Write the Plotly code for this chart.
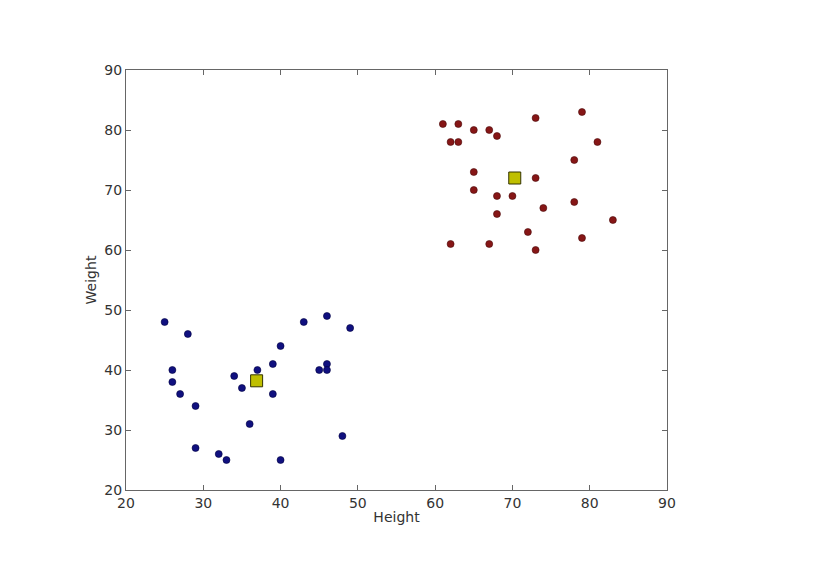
import plotly.graph_objects as go

# Cluster 1 (blue)
blue_height = [25, 28, 43, 46, 49, 40, 26, 26, 37, 39, 34, 35, 45, 46, 46, 27, 39, 29, 36, 48, 29, 32, 33, 40]
blue_weight = [48, 46, 48, 49, 47, 44, 40, 38, 40, 41, 39, 37, 40, 41, 40, 36, 36, 34, 31, 29, 27, 26, 25, 25]

# Cluster 2 (red)
red_height = [61, 63, 65, 67, 68, 73, 79, 62, 63, 81, 78, 65, 73, 65, 68, 70, 78, 74, 68, 83, 72, 79, 62, 67, 73]
red_weight = [81, 81, 80, 80, 79, 82, 83, 78, 78, 78, 75, 73, 72, 70, 69, 69, 68, 67, 66, 65, 63, 62, 61, 61, 60]

# Centroids
centroid_height = [36.9, 70.3]
centroid_weight = [38.2, 72.0]

x_ticks = [20, 30, 40, 50, 60, 70, 80, 90]
y_ticks = [20, 30, 40, 50, 60, 70, 80, 90]

fig = go.Figure()
fig.add_trace(go.Scatter(
    x=blue_height, y=blue_weight, mode="markers",
    marker=dict(color="#10107f", size=7, line=dict(color="#000040", width=0.6)),
    showlegend=False))
fig.add_trace(go.Scatter(
    x=red_height, y=red_weight, mode="markers",
    marker=dict(color="#861616", size=7, line=dict(color="#4a0a0a", width=0.6)),
    showlegend=False))
fig.add_trace(go.Scatter(
    x=centroid_height, y=centroid_weight, mode="markers",
    marker=dict(color="#bfbf00", size=12, symbol="square", line=dict(color="#333300", width=1)),
    showlegend=False))

font = dict(family="DejaVu Sans", size=14, color="#333333")
axis_common = dict(
    showgrid=False, zeroline=False, showline=True, linecolor="#666666", linewidth=1.2,
    mirror="allticks", ticks="inside", ticklen=5, tickcolor="#666666",
    tickfont=font,
)

fig.update_layout(
    width=823, height=558,
    margin=dict(l=118, r=164, t=62, b=76),
    paper_bgcolor="white", plot_bgcolor="white",
    xaxis=dict(range=[20, 90], tickvals=x_ticks, ticktext=[str(v) for v in x_ticks],
               title=dict(text="Height", font=font, standoff=2),
               **axis_common),
    yaxis=dict(range=[20, 90], tickvals=y_ticks, ticktext=[str(v) for v in y_ticks],
               title=dict(text="Weight", font=font, standoff=4),
               **axis_common),
)

fig.write_html("out.html")
